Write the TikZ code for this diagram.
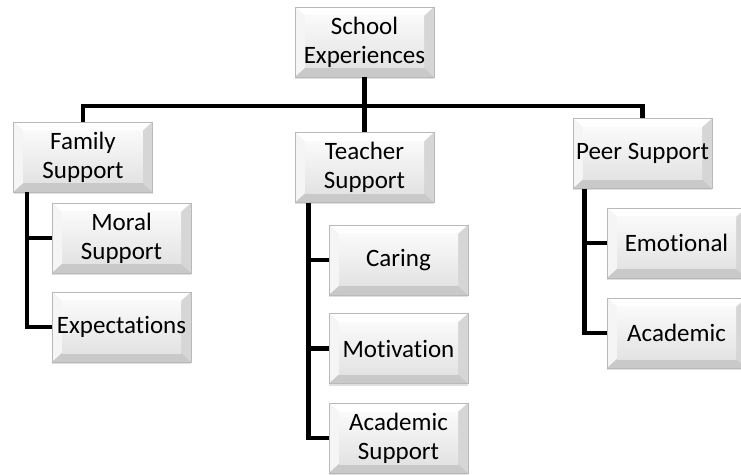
\documentclass[tikz,border=0pt]{standalone}
\usepackage{fontspec}
\setmainfont[Ligatures=NoCommon]{Carlito}
\usetikzlibrary{shadows}
\begin{document}
\begin{tikzpicture}
[x=1pt,y=1pt,
  boxdecorate/.style={shape=rectangle,minimum width=139pt,minimum height=70pt,
    inner sep=1pt,align=center,font=\fontsize{25}{29}\selectfont,
    draw=gray!55,line width=0.8pt,fill=gray!20,
    drop shadow={opacity=0.25,shadow xshift=0pt,shadow yshift=-2pt},
    path picture={
      \fill[white] (path picture bounding box.north west) -- (path picture bounding box.north east)
        -- ++(-10pt,-9pt) -- ++(-119pt,0pt) -- cycle;
      \fill[gray!8] (path picture bounding box.north west) -- ++(10pt,-9pt) -- ++(0pt,-52pt)
        -- (path picture bounding box.south west) -- cycle;
      \fill[gray!32] (path picture bounding box.north east) -- ++(-10pt,-9pt) -- ++(0pt,-52pt)
        -- (path picture bounding box.south east) -- cycle;
      \fill[gray!42] (path picture bounding box.south west) -- (path picture bounding box.south east)
        -- ++(-10pt,9pt) -- ++(-119pt,0pt) -- cycle;
      \shade[top color=gray!4,bottom color=gray!22]
        ([shift={(10pt,9pt)}]path picture bounding box.south west)
        rectangle ([shift={(-10pt,-9pt)}]path picture bounding box.north east);
    }},
  linedecorate/.style={-,line width=4.5pt},
  elbowdecorate/.style={linedecorate,to path={-| (\tikztotarget)}},
  trunkdecorate/.style={linedecorate,to path={|- (\tikztotarget)}}]
\useasboundingbox (0,0) rectangle (741,474);
%%% top level
% nodes or boxes
\node (root) at (364.5,432) [boxdecorate] {School\\Experiences};
\node (fam) at (83,317) [boxdecorate] {Family\\Support};
\node (tea) at (364.5,306.5) [boxdecorate] {Teacher\\Support};
\node (peer) at (642.5,320.5) [boxdecorate] {Peer Support};
\coordinate (bus) at (364.5,368);
% edges or lines
\path
(root) edge[linedecorate] (bus)
(bus) edge[linedecorate] (tea)
(bus) edge[elbowdecorate] (fam)
(bus) edge[elbowdecorate] (peer);
%
%%% family branch
% nodes or boxes
\node (moral) at (121.5,236) [boxdecorate] {Moral\\Support};
\node (expect) at (121.5,147) [boxdecorate] {Expectations};
\coordinate (famtrunk) at ([xshift=14pt]fam.south west);
% edges or lines
\path
(famtrunk) edge[trunkdecorate] (moral)
(famtrunk) edge[trunkdecorate] (expect);
%
%%% teacher branch
% nodes or boxes
\node (caring) at (398.5,214) [boxdecorate] {Caring};
\node (motiv) at (398.5,125.5) [boxdecorate] {Motivation};
\node (acad) at (398.5,36) [boxdecorate] {Academic\\Support};
\coordinate (teatrunk) at ([xshift=14pt]tea.south west);
% edges or lines
\path
(teatrunk) edge[trunkdecorate] (caring)
(teatrunk) edge[trunkdecorate] (motiv)
(teatrunk) edge[trunkdecorate] (acad);
%
%%% peer branch
% nodes or boxes
\node (emot) at (676.5,231) [boxdecorate] {Emotional};
\node (acadpeer) at (676.5,141) [boxdecorate] {Academic};
\coordinate (peertrunk) at ([xshift=12pt]peer.south west);
% edges or lines
\path
(peertrunk) edge[trunkdecorate] (emot)
(peertrunk) edge[trunkdecorate] (acadpeer);
\end{tikzpicture}
\end{document}
